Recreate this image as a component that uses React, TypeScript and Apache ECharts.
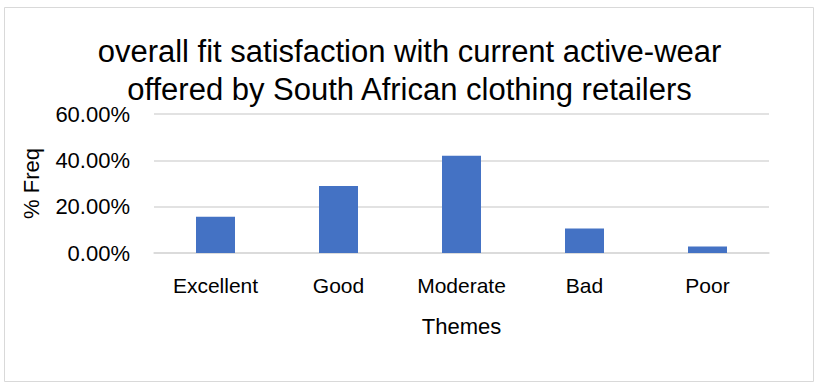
import React, { useEffect, useRef } from "react";
import * as echarts from "echarts";

const categories = ["Excellent", "Good", "Moderate", "Bad", "Poor"];
const percentFreq = [15.6, 28.9, 42.0, 10.6, 2.8];
const titleText = "overall fit satisfaction with current active-wear\noffered by South African clothing retailers";
const FONT = "'Liberation Sans', Arial, sans-serif";

export default function App() {
  const ref = useRef<HTMLDivElement>(null);
  useEffect(() => {
    const chart = echarts.init(ref.current!, null, { renderer: "svg" });
    chart.setOption({
      animation: false,
      backgroundColor: "#ffffff",
      graphic: [
        {
          type: "rect",
          shape: { x: 4.5, y: 7.5, width: 809, height: 374 },
          style: { fill: "none", stroke: "#d9d9d9", lineWidth: 1 },
          silent: true,
        },
      ],
      title: {
        text: titleText,
        left: "center",
        top: 27,
        textStyle: {
          fontFamily: FONT,
          fontSize: 31,
          fontWeight: "normal",
          color: "#000000",
          lineHeight: 38,
        },
      },
      grid: { left: 154, right: 50, top: 114, bottom: 135 },
      xAxis: {
        type: "category",
        data: categories,
        name: "Themes",
        nameLocation: "middle",
        nameGap: 62,
        nameTextStyle: { fontFamily: FONT, fontSize: 22, color: "#000" },
        axisLine: { show: true, lineStyle: { color: "#d9d9d9", width: 1.5 } },
        axisTick: { show: false },
        axisLabel: { fontFamily: FONT, fontSize: 21, color: "#000", margin: 22 },
      },
      yAxis: {
        type: "value",
        min: 0,
        max: 60,
        interval: 20,
        name: "% Freq",
        nameLocation: "middle",
        nameGap: 112,
        nameTextStyle: { fontFamily: FONT, fontSize: 22, color: "#000" },
        axisLine: { show: false },
        axisTick: { show: false },
        splitLine: { lineStyle: { color: "#d9d9d9", width: 1.5 } },
        axisLabel: {
          fontFamily: FONT,
          fontSize: 22,
          color: "#000",
          margin: 24,
          formatter: (v: number) => v.toFixed(2) + "%",
        },
      },
      series: [
        {
          type: "bar",
          data: percentFreq,
          barWidth: 39,
          itemStyle: { color: "#4472C4" },
        },
      ],
    });
    return () => chart.dispose();
  }, []);
  return <div ref={ref} style={{ width: 819, height: 388, position: "absolute", left: 0, top: 0 }} />;
}
